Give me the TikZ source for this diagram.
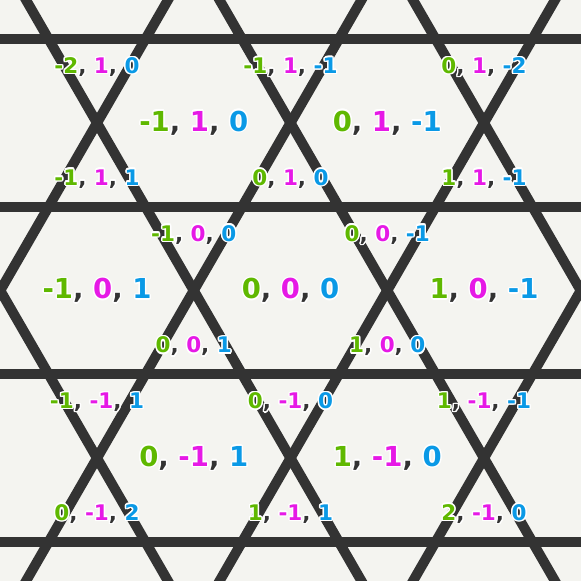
\documentclass[tikz,border=0pt]{standalone}
\usepackage{fontspec}
\setmainfont{DejaVu Sans}

\definecolor{bgcol}{HTML}{F4F4F0}
\definecolor{edgecol}{HTML}{333333}
\definecolor{qcol}{HTML}{5FB800}
\definecolor{rcol}{HTML}{E619E6}
\definecolor{scol}{HTML}{0A99E6}

% white rim round a piece of text, then the text itself
\newcommand{\halo}[2]{%
  \foreach \ang in {0,30,...,330}{%
    \rlap{\hspace*{\fpeval{1.4*cosd(\ang)}pt}\raisebox{\fpeval{1.4*sind(\ang)}pt}{\textcolor{white}{#2}}}}%
  \textcolor{#1}{#2}}
\newcommand{\cubelbl}[3]{\halo{qcol}{#1}\halo{edgecol}{,} \halo{rcol}{#2}\halo{edgecol}{,} \halo{scol}{#3}}

\tikzset{
  edge/.style={draw=edgecol, line width=10pt},
  hexlabel/.style={font=\bfseries\fontsize{27.5}{27.5}\selectfont, inner sep=0pt},
  trilabel/.style={font=\bfseries\fontsize{21.5}{21.5}\selectfont, inner sep=0pt},
}

\begin{document}
\begin{tikzpicture}[x={(96.75pt,-55.86pt)}, y={(0pt,111.71pt)}, z={(-96.75pt,-55.86pt)}]
    \pgfmathsetmacro{\hexside}{193.5}
    \pgfmathsetmacro{\rowh}{\hexside*sqrt(3)/2}

    \fill[bgcol] (-290.5pt,-290.5pt) rectangle (290.5pt,290.5pt);
    \useasboundingbox (-290.5pt,-290.5pt) rectangle (290.5pt,290.5pt);

    \begin{scope}
      \clip (-290.5pt,-290.5pt) rectangle (290.5pt,290.5pt);
      % horizontal edges
      \foreach \k in {-1.5,-0.5,0.5,1.5}
        \draw[edge] ({-300pt},{\k*\rowh*1pt}) -- ({300pt},{\k*\rowh*1pt});
      % slanted edges
      \foreach \k in {-3,...,2}{
        \draw[edge] ({(\k+0.5)*\hexside*1pt},0pt) ++(240:400pt) -- ++(60:800pt);
        \draw[edge] ({(\k+0.5)*\hexside*1pt},0pt) ++(300:400pt) -- ++(120:800pt);
      }
    \end{scope}

    % hexagons
    \foreach \p/\q/\r [count=\i] in {-1/1/0, 0/1/-1, -1/0/1, 0/0/0, 1/0/-1, 0/-1/1, 1/-1/0}
      \node[hexlabel] (hex\i) at (\p,\q,\r) {\cubelbl{\p}{\q}{\r}};

    % triangles
    \foreach \p/\q/\r [count=\i] in {-2/1/0, -1/1/-1, 0/1/-2, -1/1/1, 0/1/0, 1/1/-1,
        -1/0/0, 0/0/-1, 0/0/1, 1/0/0,
        -1/-1/1, 0/-1/0, 1/-1/-1, 0/-1/2, 1/-1/1, 2/-1/0}
      \node[trilabel] (tri\i) at (\p,\q,\r) {\cubelbl{\p}{\q}{\r}};
\end{tikzpicture}
\end{document}
